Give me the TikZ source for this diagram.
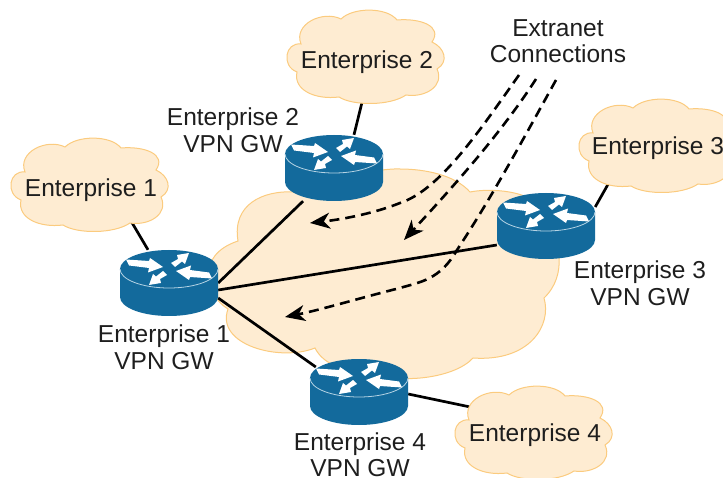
\documentclass[tikz,border=0pt]{standalone}
\usepackage{fontspec}
\setmainfont{Liberation Sans}
\usetikzlibrary{arrows.meta,calc}
\pgfdeclarelayer{bgcloud}
\pgfdeclarelayer{links}
\pgfdeclarelayer{shapes}
\pgfsetlayers{bgcloud,links,shapes,main}
\definecolor{cloudfill}{HTML}{FEECD2}
\definecolor{cloudedge}{HTML}{FBCB7E}
\definecolor{routerblue}{HTML}{136A9C}
\definecolor{rim}{HTML}{B5D3E4}
\definecolor{ink}{HTML}{1E1E1E}
\tikzset{
  x=1pt,y=-1pt,
  label text/.style={font=\fontsize{24.5}{26.5}\selectfont,text=ink,align=center,inner sep=0pt},
  cloudbox/.style={label text,minimum width=158,minimum height=92},
  routerbox/.style={minimum width=98,minimum height=66,inner sep=0pt},
  link/.style={draw=black,line width=2.7pt},
  extranet/.style={draw=black,line width=2.6pt,dash pattern=on 10pt off 6pt,
    -{Stealth[length=20pt,width=16pt,inset=6pt]}},
  cloudstyle/.style={fill=cloudfill,draw=cloudedge,line width=1pt},
  pics/smallcloud/.style={code={
    \path[cloudstyle] (-64,-12) .. controls (-72,-32) and (-42,-46) .. (-24,-37)
      .. controls (-12,-49) and (22,-49) .. (32,-36)
      .. controls (55,-38) and (78,-30) .. (67,-14)
      .. controls (80,-8) and (84,6) .. (72,13)
      .. controls (80,30) and (60,42) .. (41,39)
      .. controls (25,50) and (-12,50) .. (-26,41)
      .. controls (-50,44) and (-72,34) .. (-68,16)
      .. controls (-84,10) and (-80,-14) .. (-64,-12) -- cycle;
  }},
  pics/routerpic/.style={code={
    \fill[routerblue] (-49,-14) -- (-49,14) arc[start angle=180,end angle=360,x radius=49pt,y radius=19pt]
      -- (49,-14) arc[start angle=0,end angle=180,x radius=49pt,y radius=19pt] -- cycle;
    \draw[rim,line width=.8pt] (-49,-14) arc[start angle=180,end angle=360,x radius=49pt,y radius=19pt];
    \begin{scope}[yshift=14pt]
      \fill[white] (-43,-9.5) -- (-20,-8) -- (-19,-11) -- (-6,-2) -- (-21,3.5) -- (-20,-1) -- (-40,-3.5) -- cycle;
      \fill[white] (43,9.5) -- (21,8) -- (20,11) -- (7,2) -- (22,-3.5) -- (21,1) -- (40,3.5) -- cycle;
      \fill[white] (2,-6) -- (9,-10) -- (8,-14) -- (20,-16) -- (16,-5) -- (13,-7.5) -- (6,-2) -- cycle;
      \fill[white] (-2,6) -- (-9,10) -- (-8,14) -- (-20,16) -- (-16,5) -- (-13,7.5) -- (-6,2) -- cycle;
    \end{scope}
  }},
}
\begin{document}
\begin{tikzpicture}
\clip (0,0) rectangle (723,478);
% nodes
\node[routerbox] (r1) at (169,283) {};
\node[routerbox] (r2) at (334,168) {};
\node[routerbox] (r3) at (546,226) {};
\node[routerbox] (r4) at (359,392) {};
\node[cloudbox] (c1) at (91,190) {Enterprise 1};
\node[cloudbox] (c2) at (367,62) {Enterprise 2};
\node[cloudbox] (c3) at (658,148) {Enterprise 3};
\node[cloudbox] (c4) at (535,435) {Enterprise 4};
\node[label text] (g1) at (164,347) {Enterprise 1\\VPN GW};
\node[label text] (g2) at (233,130) {Enterprise 2\\VPN GW};
\node[label text] (g3) at (640,283) {Enterprise 3\\VPN GW};
\node[label text] (g4) at (360,454.5) {Enterprise 4\\VPN GW};
\node[label text] (ext) at (558,41) {Extranet\\Connections};
% large cloud
\begin{pgfonlayer}{bgcloud}
\path[cloudstyle] (238,241) .. controls (232,205) and (262,190) .. (295,192)
  .. controls (335,183) and (370,168) .. (400,169)
  .. controls (425,169) and (455,175) .. (470,192)
  .. controls (490,188) and (530,190) .. (545,210)
  .. controls (560,240) and (568,275) .. (544,298)
  .. controls (552,325) and (530,362) .. (473,358)
  .. controls (455,378) and (400,385) .. (370,372)
  .. controls (340,372) and (322,362) .. (315,348)
  .. controls (280,362) and (215,345) .. (228,309)
  .. controls (205,295) and (195,255) .. (238,241) -- cycle;
\end{pgfonlayer}
% solid links
\begin{pgfonlayer}{links}
\draw[link] ([xshift=36pt,yshift=22pt]c1.south) -- ([xshift=-21pt]r1.north);
\draw[link] ([xshift=-2pt,yshift=18pt]c2.south) -- ([xshift=20pt]r2.north);
\draw[link] ([xshift=-42pt,yshift=24pt]c3.south) -- ([yshift=19pt]r3.east);
\draw[link] ([xshift=24pt,yshift=26pt]c4.west) -- ([yshift=-2pt]r4.east);
\draw[link] (r1.east) -- ([xshift=-31pt]r2.south);
\draw[link] ([yshift=-7pt]r1.east) -- ([yshift=-19pt]r3.west);
\draw[link] ([yshift=-15pt]r1.east) -- ([xshift=6pt,yshift=25pt]r4.west);
\end{pgfonlayer}
% device and cloud shapes
\begin{pgfonlayer}{shapes}
\pic at (r1) {routerpic};
\pic at (r2) {routerpic};
\pic at (r3) {routerpic};
\pic at (r4) {routerpic};
\pic at (89,184) {smallcloud};
\pic at (365,56) {smallcloud};
\pic at (657,145) {smallcloud};
\pic at (533,432) {smallcloud};
\end{pgfonlayer}
% extranet dashed connectors
\coordinate (d1) at (519,75);
\coordinate (d2) at (536,79);
\coordinate (d3) at (556,80);
\coordinate (t1) at (310,223);
\coordinate (t2) at (404,240);
\coordinate (t3) at (285,317);
\draw[extranet] (d1) .. controls (480,130) and (440,190) .. (400,203) .. controls (375,213) and (345,219) .. (t1);
\draw[extranet] (d2) .. controls (500,135) and (450,190) .. (t2);
\draw[extranet] (d3) .. controls (520,145) and (490,200) .. (457,250) .. controls (440,280) and (420,282) .. (400,288) .. controls (360,298) and (320,310) .. (t3);
\end{tikzpicture}
\end{document}
